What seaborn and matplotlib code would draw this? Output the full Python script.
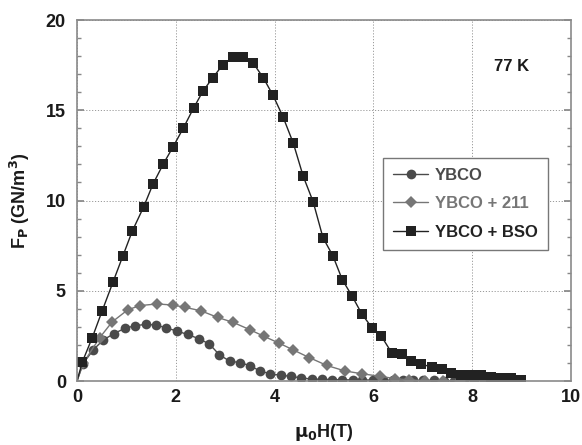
import matplotlib
matplotlib.use("Agg")
import matplotlib.pyplot as plt
from matplotlib.ticker import MultipleLocator
import seaborn as sns

# field (T) and pinning force (GN/m^3)
h_ybco = [0.0, 0.12, 0.33, 0.53, 0.75, 0.97, 1.17, 1.39, 1.60, 1.81, 2.03, 2.24, 2.46, 2.68,
          2.88, 3.09, 3.30, 3.50, 3.71, 3.91, 4.12, 4.33, 4.54, 4.75, 4.96, 5.17, 5.37,
          5.58, 5.78, 5.99, 6.19, 6.40, 6.60, 6.81, 7.01, 7.22, 7.42, 7.63, 7.83, 8.04,
          8.24, 8.45, 8.65]
fp_ybco = [0.0, 0.95, 1.73, 2.27, 2.63, 2.92, 3.06, 3.14, 3.10, 2.94, 2.76, 2.58, 2.35, 2.05,
           1.46, 1.10, 1.02, 0.85, 0.55, 0.40, 0.32, 0.26, 0.17, 0.11, 0.09, 0.08, 0.07,
           0.06, 0.06, 0.05, 0.05, 0.04, 0.04, 0.03, 0.03, 0.03, 0.02, 0.02, 0.02, 0.01,
           0.01, 0.01, 0.0]

h_211 = [0.0, 0.13, 0.46, 0.71, 1.03, 1.28, 1.62, 1.94, 2.19, 2.51, 2.85, 3.16, 3.51, 3.79,
         4.09, 4.38, 4.70, 5.06, 5.42, 5.77, 6.14, 6.44, 6.73, 7.05, 7.40, 7.75]
fp_211 = [0.0, 1.01, 2.40, 3.27, 3.95, 4.18, 4.27, 4.21, 4.08, 3.89, 3.52, 3.25, 2.83, 2.47,
          2.10, 1.72, 1.30, 0.86, 0.56, 0.40, 0.26, 0.13, 0.06, 0.02, 0.01, 0.0]

h_bso = [0.0, 0.11, 0.31, 0.51, 0.73, 0.93, 1.12, 1.35, 1.54, 1.75, 1.94, 2.15, 2.36, 2.55,
         2.75, 2.95, 3.16, 3.37, 3.56, 3.77, 3.97, 4.17, 4.38, 4.58, 4.78, 4.98, 5.18,
         5.37, 5.57, 5.77, 5.97, 6.16, 6.37, 6.58, 6.77, 6.97, 7.18, 7.38, 7.58, 7.78,
         7.97, 8.18, 8.38, 8.58, 8.78, 8.98]
fp_bso = [0.0, 1.07, 2.41, 3.89, 5.49, 6.94, 8.31, 9.65, 10.92, 12.04, 12.95, 14.0, 15.12,
          16.06, 16.81, 17.51, 17.95, 17.95, 17.64, 16.81, 15.82, 14.64, 13.17, 11.34, 9.94,
          7.94, 6.94, 5.62, 4.70, 3.70, 2.96, 2.49, 1.57, 1.47, 1.10, 0.92, 0.79, 0.64,
          0.46, 0.33, 0.33, 0.33, 0.24, 0.15, 0.15, 0.06]

series = [
    ("YBCO", h_ybco, fp_ybco, "o", "#4a4a4a", 7.0),
    ("YBCO + 211", h_211, fp_211, "D", "#767676", 6.2),
    ("YBCO + BSO", h_bso, fp_bso, "s", "#222222", 7.0),
]

sns.set_theme(style="ticks")
plt.rcParams["font.family"] = ["Liberation Sans", "DejaVu Sans"]
plt.rcParams["font.weight"] = "bold"
plt.rcParams["mathtext.default"] = "regular"

fig = plt.figure(figsize=(5.82, 4.45), dpi=100)
ax = fig.add_axes([0.1323, 0.1438, 0.8487, 0.8112])

for name, h, fp, mk, col, ms in series:
    sns.lineplot(x=h, y=fp, ax=ax, sort=False, estimator=None, color=col,
                 linewidth=1.0, marker=mk, markersize=ms, markeredgewidth=0,
                 markerfacecolor=col, markevery=list(range(1, len(h))), label=name)

ax.set_xlim(0, 10)
ax.set_ylim(0, 20)
ax.xaxis.set_major_locator(MultipleLocator(2))
ax.yaxis.set_major_locator(MultipleLocator(5))
ax.yaxis.set_minor_locator(MultipleLocator(1))
ax.tick_params(axis="both", which="both", direction="in", right=True, top=False,
               colors="#888888", labelcolor="#1a1a1a", labelsize=13)
ax.tick_params(axis="y", which="major", length=5, pad=8)
ax.tick_params(axis="y", which="minor", length=3)
ax.tick_params(axis="x", which="major", length=0, pad=6)
for lab in ax.get_xticklabels() + ax.get_yticklabels():
    lab.set_fontweight("bold")

ax.grid(True, which="major", color="#9a9a9a", linestyle=(0, (1.2, 1.8)), linewidth=0.7)
for sp in ax.spines.values():
    sp.set_color("#8a8a8a")
    sp.set_linewidth(1.2)

ax.set_xlabel(r"$\mathbf{\mu_0}$H(T)", fontsize=13, fontweight="bold", color="#1a1a1a", labelpad=11)
ax.set_ylabel(r"F$_\mathbf{P}$ (GN/m$^\mathbf{3}$)", fontsize=13, fontweight="bold",
              color="#1a1a1a", labelpad=10)

ax.text(8.8, 17.4, "77 K", fontsize=12, fontweight="bold", color="#1a1a1a",
        ha="center", va="center")

leg = ax.legend(loc="upper left", bbox_to_anchor=(0.62, 0.618), borderaxespad=0,
                frameon=True, fancybox=False, fontsize=12, handlelength=2.1,
                handletextpad=0.4, borderpad=0.6, labelspacing=0.8,
                edgecolor="#777777", framealpha=1)
leg.get_frame().set_linewidth(1.0)
for txt, (_, _, _, _, col, _) in zip(leg.get_texts(), series):
    txt.set_color(col)
    txt.set_fontweight("bold")

fig.savefig("out.png", dpi=100)
